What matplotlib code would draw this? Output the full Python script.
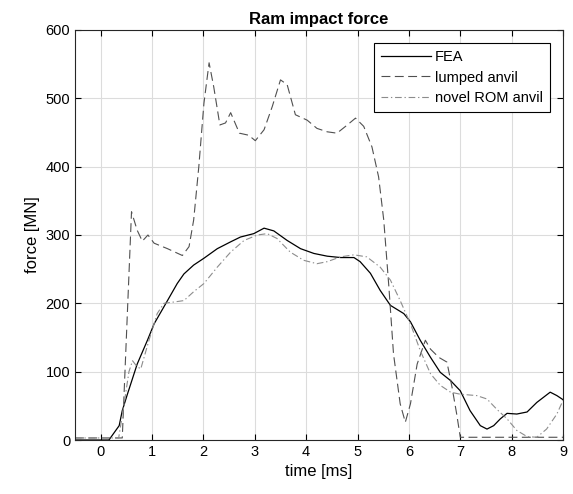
import matplotlib
matplotlib.use("Agg")
import matplotlib.pyplot as plt

plt.rcParams["font.family"] = ["Liberation Sans", "DejaVu Sans"]

# FEA reference force
fea_t = [-0.5, 0.0, 0.16, 0.36, 0.42, 0.52, 0.71, 0.91, 1.04, 1.30, 1.49, 1.62, 1.81, 2.01,
         2.27, 2.53, 2.72, 2.98, 3.18, 3.37, 3.63, 3.89, 4.15, 4.41, 4.67, 4.93, 5.05,
         5.25, 5.44, 5.64, 5.90, 6.03, 6.22, 6.42, 6.61, 6.81, 7.00, 7.19, 7.39, 7.52,
         7.65, 7.78, 7.91, 8.10, 8.30, 8.49, 8.75, 8.88, 9.00]
fea_f = [0, 0, 0, 21, 43, 67, 111, 146, 170, 204, 229, 243, 256, 266,
         280, 290, 297, 302, 310, 306, 292, 280, 273, 269, 267, 267, 261,
         244, 219, 197, 185, 173, 146, 121, 99, 87, 72, 43, 21, 16,
         21, 31, 39, 38, 41, 55, 70, 65, 59]

# lumped anvil model
lump_t = [-0.5, 0.42, 0.60, 0.71, 0.81, 0.92, 1.04, 1.30, 1.59, 1.72, 1.81, 1.91, 2.01,
          2.11, 2.20, 2.32, 2.43, 2.53, 2.70, 2.88, 3.01, 3.18, 3.34, 3.50, 3.63,
          3.79, 4.02, 4.21, 4.41, 4.60, 4.80, 4.96, 5.12, 5.28, 5.41, 5.51, 5.61,
          5.70, 5.83, 5.93, 6.03, 6.16, 6.32, 6.42, 6.58, 6.74, 6.84, 6.93, 7.00, 9.00]
lump_f = [3, 3, 334, 307, 291, 300, 288, 280, 270, 283, 322, 400, 493,
          552, 517, 461, 464, 479, 449, 446, 438, 454, 488, 527, 520,
          476, 468, 456, 451, 449, 461, 471, 459, 429, 385, 322, 224,
          126, 53, 26, 53, 111, 146, 133, 121, 114, 77, 38, 4, 4]

# novel ROM anvil model
rom_t = [-0.5, 0.35, 0.45, 0.55, 0.62, 0.70, 0.78, 0.94, 1.10, 1.23, 1.43, 1.62, 1.81,
         2.01, 2.27, 2.53, 2.79, 3.05, 3.24, 3.43, 3.69, 3.95, 4.21, 4.41, 4.67, 4.93,
         5.18, 5.44, 5.64, 5.83, 6.03, 6.22, 6.42, 6.61, 6.81, 7.00, 7.32, 7.52, 7.71,
         7.91, 8.10, 8.30, 8.49, 8.68, 8.88, 9.00]
rom_f = [3, 3, 50, 100, 116, 108, 104, 146, 185, 200, 202, 204, 217,
         229, 253, 275, 292, 300, 302, 295, 275, 263, 258, 261, 268, 271,
         268, 253, 234, 204, 170, 131, 97, 80, 70, 67, 65, 60, 45,
         31, 14, 5, 4, 16, 38, 58]

x_ticks = list(range(0, 10))
y_ticks = [0, 100, 200, 300, 400, 500, 600]

fig = plt.figure(figsize=(5.73, 4.94), dpi=100)
ax = fig.add_axes([0.1309, 0.1093, 0.8517, 0.830])

ax.plot(fea_t, fea_f, color="black", lw=0.9, label="FEA")
ax.plot(lump_t, lump_f, color="#505050", lw=0.8, dashes=(8, 4), label="lumped anvil")
ax.plot(rom_t, rom_f, color="#8c8c8c", lw=0.8, dashes=(6, 2.5, 1.2, 2.5), label="novel ROM anvil")

ax.set_xlim(-0.5, 9)
ax.set_ylim(0, 600)
ax.set_xticks(x_ticks)
ax.set_yticks(y_ticks)
ax.grid(True, color="#dcdcdc", lw=0.8)
ax.set_axisbelow(True)
ax.tick_params(direction="in", top=True, right=True, labelsize=10.5, length=4, width=0.8)
for s in ax.spines.values():
    s.set_linewidth(0.8)
    s.set_color("#262626")

ax.set_xlabel("time [ms]", fontsize=12)
ax.set_ylabel("force [MN]", fontsize=12)
ax.set_title("Ram impact force", fontsize=12, fontweight="bold", pad=4)

leg = ax.legend(loc="upper right", fontsize=10.5, fancybox=False, framealpha=1,
                edgecolor="black", handlelength=3.4, borderaxespad=0.9, labelspacing=0.42,
                handletextpad=0.25, borderpad=0.5)
leg.get_frame().set_linewidth(0.8)

fig.savefig("out.png", dpi=100)
